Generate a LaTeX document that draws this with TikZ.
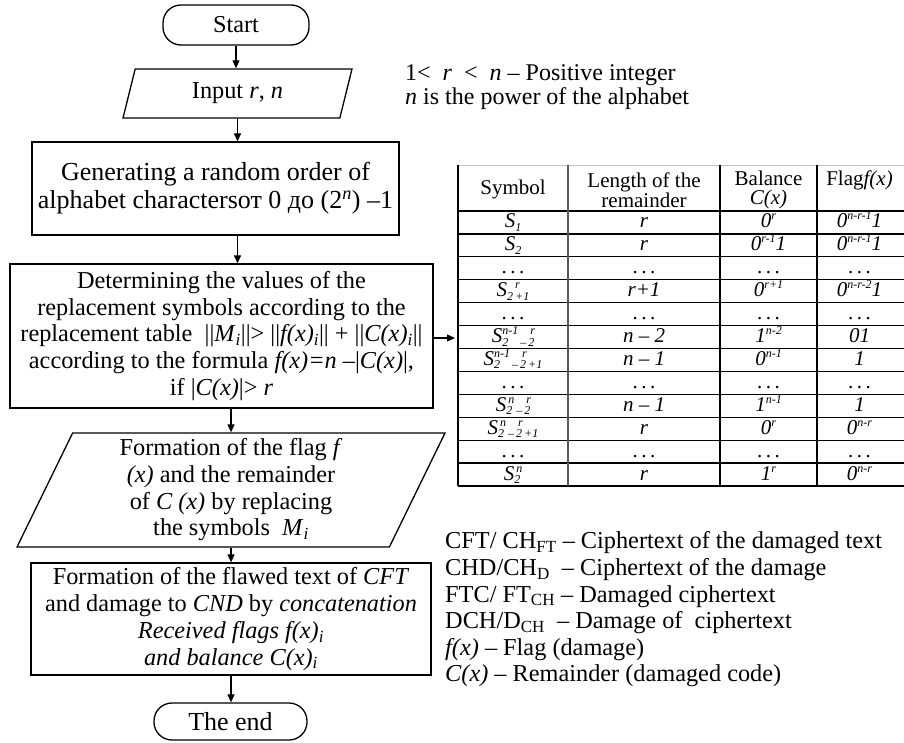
\documentclass[tikz,border=0pt]{standalone}
\usepackage{fontspec}
\setmainfont{Liberation Serif}
\usetikzlibrary{shapes.geometric,arrows.meta}

% italic sub/superscripts used in the formulas
\newcommand\tsub[1]{\textsubscript{\textit{#1}}}
\newcommand\tsup[1]{\textsuperscript{\textit{#1}}}
% smaller, more spread indices for the table cells
\newcommand\hsup[1]{\raisebox{8pt}{\fontsize{12}{12}\selectfont\textit{#1}}}
\newcommand\hsub[1]{\raisebox{-3.5pt}{\fontsize{12}{12}\selectfont\textit{#1}}}
\newcommand\dts{.\,.\,.}

\tikzset{
  flow/.style={draw, line width=1.3pt, inner sep=0pt, align=center,
    font=\fontsize{24.3}{26.7}\selectfont},
  termbox/.style={flow, rectangle, rounded corners=18pt},
  procbox/.style={flow, rectangle},
  iobox/.style={flow, trapezium, trapezium stretches body},
  arr/.style={-{Triangle[length=8pt,width=7pt]}, line width=1.1pt},
  hcell/.style={inner sep=0pt, align=center, font=\fontsize{21}{19.5}\selectfont},
  cell/.style={inner sep=0pt, anchor=base, font=\fontsize{21}{19.5}\selectfont},
  tline/.style={line width=1.3pt},
  note/.style={inner sep=0pt, anchor=west, align=left},
}

\begin{document}
\begin{tikzpicture}[x=1pt,y=-1pt]
\useasboundingbox (0,0) rectangle (904,742);

% ---------------- flowchart ----------------
\node[termbox, minimum width=146pt, minimum height=40pt] (start) at (236,25) {Start};
\node[iobox, trapezium left angle=60, trapezium right angle=120,
      minimum width=229pt, minimum height=49pt] (input) at (237.5,93.5) {Input \textit{r}, \textit{n}};
\node[procbox, minimum width=367pt, minimum height=93pt,
      font=\fontsize{26}{28}\selectfont] (gen) at (215.5,188.5)
  {Generating a random order of\\alphabet charactersот 0 до (2\tsup{n}) –1};
\node[procbox, minimum width=423pt, minimum height=144pt] (det) at (221.5,336)
  {Determining the values of the\\
   replacement symbols according to the\\
   replacement table \ ||\textit{M}\tsub{i}||> ||\textit{f(x)}\tsub{i}|| + ||\textit{C(x)}\tsub{i}||\\
   according to the formula \textit{f(x)=n} –|\textit{C(x)}|,\\
   if |\textit{C(x)}|> \textit{r}};
\node[iobox, trapezium left angle=61.5, trapezium right angle=118.5,
      minimum width=428pt, minimum height=114pt] (form) at (231,490)
  {Formation of the flag \textit{f}\\
   \textit{(x)} and the remainder\\
   of \textit{C (x)} by replacing\\
   the symbols \ \textit{M}\tsub{i}};
\node[procbox, minimum width=400pt, minimum height=112pt] (final) at (231,619)
  {Formation of the flawed text of \textit{CFT}\\
   and damage to \textit{CND} by \textit{concatenation}\\
   \textit{Received flags f(x)}\tsub{i}\\
   \textit{and balance C(x)}\tsub{i}};
\node[termbox, minimum width=153pt, minimum height=37pt,
      font=\fontsize{26}{28}\selectfont] (end) at (230.5,721.5) {The end};

\draw[arr] (start.south) -- (start.south |- input.north);
\draw[arr] (input.south) -- (input.south |- gen.north);
\draw[arr] (input.south |- gen.south) -- (input.south |- det.north);
\draw[arr] (form.north |- det.south) -- (form.north);
\draw[arr] (form.south) -- (form.south |- final.north);
\draw[arr] (final.south) -- (final.south |- end.north);

% ---------------- replacement table ----------------
\coordinate (tblW) at (455,338);
\draw[arr] (det.east |- tblW) -- (tblW);

\draw[gray!45, line width=0.8pt] (458,165) -- (904,165);
\foreach \k in {0,...,12}
  \draw[tline] (458,{211+22.92*\k}) -- (904,{211+22.92*\k});
\draw[line width=1.6pt] (458,165) -- (458,486);
\draw[black!65, line width=2.4pt] (568,165) -- (568,486);
\draw[line width=1.5pt] (720,165) -- (720,486);
\draw[line width=1.5pt] (817,165) -- (817,486);

\node[hcell] (hsym)  at (513,189)   {Symbol};
\node[hcell] (hlen)  at (644,190)   {Length of the\\remainder};
\node[hcell] (hbal)  at (768.5,190) {Balance\\\textit{C(x)}};
\node[hcell] (hflag) at (859.5,180) {Flag\textit{f(x)}};

\foreach \k/\a/\b/\c/\d in {
  1/{\textit{S}\hsub{1}}/{\textit{r}}/{\textit{0}\hsup{r}}/{\textit{0}\hsup{n-r-1}\textit{1}},
  2/{\textit{S}\hsub{2}}/{\textit{r}}/{\textit{0}\hsup{r-1}\textit{1}}/{\textit{0}\hsup{n-r-1}\textit{1}},
  3/{\dts}/{\dts}/{\dts}/{\dts},
  4/{\textit{S}\hsub{2}\rlap{\hsup{\,r}}\hsub{\,+1}}/{\textit{r+1}}/{\textit{0}\hsup{r+1}}/{\textit{0}\hsup{n-r-2}\textit{1}},
  5/{\dts}/{\dts}/{\dts}/{\dts},
  6/{\textit{S}\rlap{\hsub{2}}\hsup{n-1}\hsub{\,–\,}\rlap{\hsup{\,r}}\hsub{2}}/{\textit{n} – \textit{2}}/{\textit{1}\hsup{n-2}}/{\textit{01}},
  7/{\textit{S}\rlap{\hsub{2}}\hsup{n-1}\hsub{\,–\,}\rlap{\hsup{\,r}}\hsub{2\,+1}}/{\textit{n} – \textit{1}}/{\textit{0}\hsup{n-1}}/{\textit{1}},
  8/{\dts}/{\dts}/{\dts}/{\dts},
  9/{\textit{S}\rlap{\hsub{2}}\hsup{\,n}\hsub{\,–\,}\rlap{\hsup{\,r}}\hsub{2}}/{\textit{n} – \textit{1}}/{\textit{1}\hsup{n-1}}/{\textit{1}},
  10/{\textit{S}\rlap{\hsub{2}}\hsup{\,n}\hsub{\,–\,}\rlap{\hsup{\,r}}\hsub{2\,+1}}/{\textit{r}}/{\textit{0}\hsup{r}}/{\textit{0}\hsup{n-r}},
  11/{\dts}/{\dts}/{\dts}/{\dts},
  12/{\textit{S}\rlap{\hsub{2}}\hsup{\,n}}/{\textit{r}}/{\textit{1}\hsup{r}}/{\textit{0}\hsup{n-r}}}
{
  \node[cell] (c\k a) at (513,{211+22.92*\k-6})   {\a};
  \node[cell] (c\k b) at (644,{211+22.92*\k-6})   {\b};
  \node[cell] (c\k c) at (768.5,{211+22.92*\k-6}) {\c};
  \node[cell] (c\k d) at (859.5,{211+22.92*\k-6}) {\d};
}

% ---------------- notes ----------------
\node[note, font=\fontsize{24}{24}\selectfont] (range) at (405,87)
  {1<~ \textit{r} ~<~ \textit{n} – Positive integer\\
   \textit{n} is the power of the alphabet};

\node[note, font=\fontsize{24.3}{26.6}\selectfont] (legend) at (445,609.5)
  {CFT/ CH\textsubscript{FT} – Ciphertext of the damaged text\\
   CHD/CH\textsubscript{D} \ – Ciphertext of the damage\\
   FTC/ FT\textsubscript{CH} – Damaged ciphertext\\
   DCH/D\textsubscript{CH} \ – Damage of \ ciphertext\\
   \textit{f(x)} – Flag (damage)\\
   \textit{C(x)} – Remainder (damaged code)};
\end{tikzpicture}
\end{document}
